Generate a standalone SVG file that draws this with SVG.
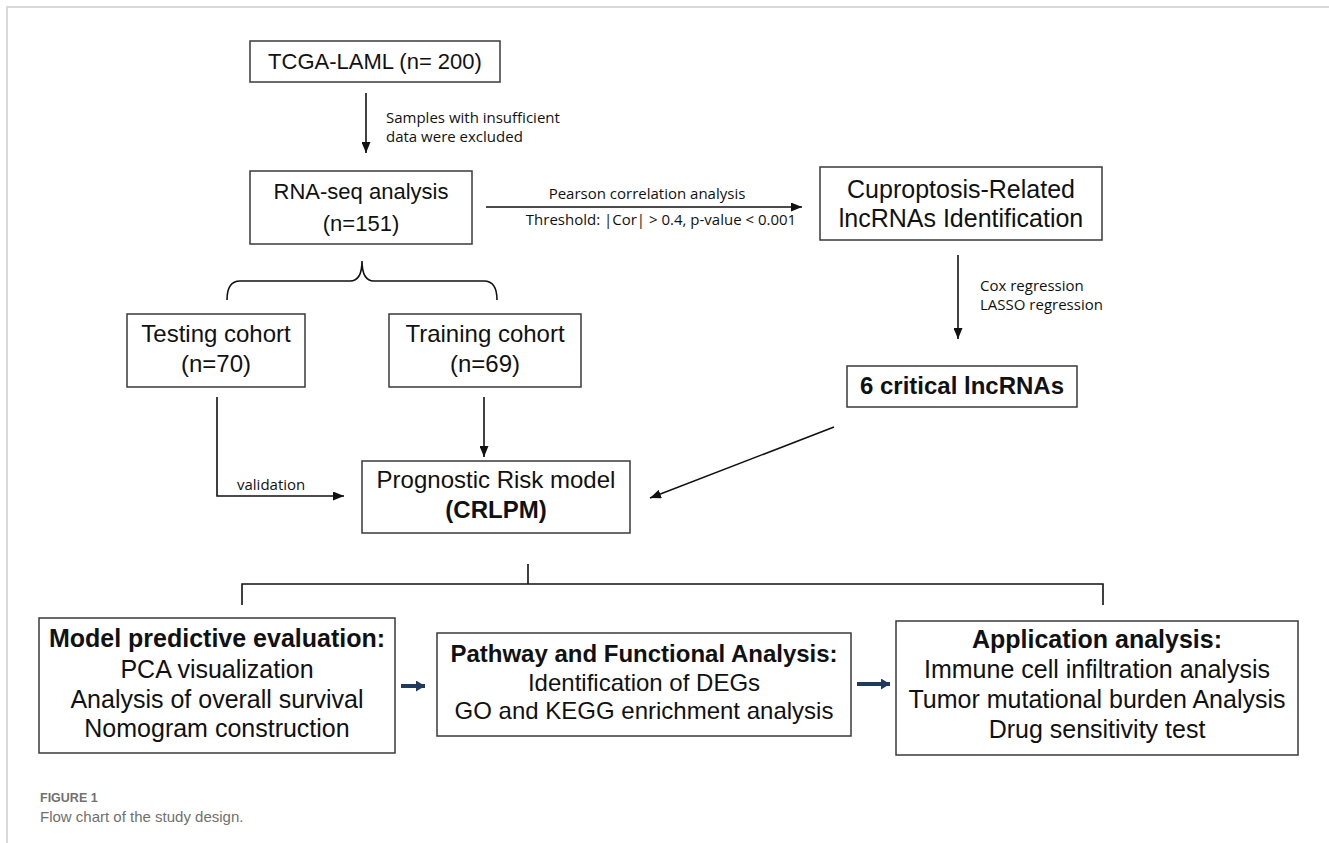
<svg xmlns="http://www.w3.org/2000/svg" width="1329" height="843" viewBox="0 0 1329 843">
<style>
.box{fill:#fff;stroke:#3a3a3a;stroke-width:1.5}
.t{font-family:"Liberation Sans",Arial,sans-serif;fill:#111;text-anchor:middle}
.b{font-weight:bold}
.lbl{font-family:"Open Sans","Liberation Sans",sans-serif;font-size:15px;fill:#111}
.ln{fill:none;stroke:#111;stroke-width:1.6}
.nv{fill:none;stroke:#1f3a5c;stroke-width:4}
.cap{font-family:"Liberation Sans",Arial,sans-serif;fill:#707070}
</style>
<defs>
<marker id="ah" markerUnits="userSpaceOnUse" markerWidth="11" markerHeight="9" refX="11" refY="4.5" orient="auto">
<path d="M0,0 L11,4.5 L0,9 z" fill="#111"/>
</marker>
<marker id="nh" markerUnits="userSpaceOnUse" markerWidth="9" markerHeight="11" refX="9" refY="5.5" orient="auto">
<path d="M0,0 L9,5.5 L0,11 z" fill="#1f3a5c"/>
</marker>
</defs>
<rect width="1329" height="843" fill="#fff"/>
<path d="M7,843 L7,7 L1329,7" fill="none" stroke="#d9d9d9" stroke-width="2"/>

<g id="connectors">
<line class="ln" x1="366" y1="93" x2="366" y2="153" marker-end="url(#ah)"/>
<line class="ln" x1="486" y1="207" x2="802" y2="207" marker-end="url(#ah)"/>
<line class="ln" x1="958" y1="255" x2="958" y2="339" marker-end="url(#ah)"/>
<path class="ln" d="M227,300 Q227,281 240,281 L350,281 Q362,281 362,261 Q362,281 374,281 L484,281 Q497,281 497,300"/>
<line class="ln" x1="484" y1="397" x2="484" y2="457" marker-end="url(#ah)"/>
<path class="ln" d="M217,397 L217,496 L344,496" marker-end="url(#ah)"/>
<line class="ln" x1="834" y1="427" x2="650" y2="498" marker-end="url(#ah)"/>
<path class="ln" d="M528,564 L528,584 M242,605 L242,584 L1103,584 L1103,605"/>
<line class="nv" x1="401" y1="686" x2="425" y2="686" marker-end="url(#nh)"/>
<line class="nv" x1="857" y1="684" x2="890" y2="684" marker-end="url(#nh)"/>
<text class="lbl" x="386" y="123">Samples with insufficient</text>
<text class="lbl" x="386" y="142">data were excluded</text>
<text class="lbl" x="647" y="199" text-anchor="middle">Pearson correlation analysis</text>
<text class="lbl" x="661" y="225" text-anchor="middle" font-size="14">Threshold: |Cor| &gt; 0.4, p-value &lt; 0.001</text>
<text class="lbl" x="980" y="291">Cox regression</text>
<text class="lbl" x="980" y="310">LASSO regression</text>
<text class="lbl" x="237" y="490">validation</text>
</g>

<g id="tcga">
<rect class="box" x="250" y="41" width="250" height="41"/>
<text class="t" x="375" y="69" font-size="22">TCGA-LAML (n= 200)</text>
</g>
<g id="rnaseq">
<rect class="box" x="250" y="171" width="222" height="73"/>
<text class="t" x="361" y="199" font-size="22">RNA-seq analysis</text>
<text class="t" x="361" y="231" font-size="22">(n=151)</text>
</g>
<g id="cuproptosis">
<rect class="box" x="820" y="167" width="282" height="73"/>
<text class="t" x="961" y="198" font-size="25">Cuproptosis-Related</text>
<text class="t" x="961" y="227" font-size="25">lncRNAs Identification</text>
</g>
<g id="testing">
<rect class="box" x="127" y="314" width="178" height="73"/>
<text class="t" x="216" y="342" font-size="24">Testing cohort</text>
<text class="t" x="216" y="372" font-size="24">(n=70)</text>
</g>
<g id="training">
<rect class="box" x="389" y="314" width="192" height="73"/>
<text class="t" x="485" y="342" font-size="24">Training cohort</text>
<text class="t" x="485" y="372" font-size="24">(n=69)</text>
</g>
<g id="critical">
<rect class="box" x="847" y="366" width="230" height="41"/>
<text class="t b" x="962" y="394" font-size="24">6 critical lncRNAs</text>
</g>
<g id="prognostic">
<rect class="box" x="362" y="461" width="268" height="72"/>
<text class="t" x="496" y="488" font-size="24">Prognostic Risk model</text>
<text class="t b" x="496" y="518" font-size="24">(CRLPM)</text>
</g>
<g id="model">
<rect class="box" x="39" y="618" width="356" height="135"/>
<text class="t b" x="217" y="647" font-size="25">Model predictive evaluation:</text>
<text class="t" x="217" y="678" font-size="25">PCA visualization</text>
<text class="t" x="217" y="708" font-size="25">Analysis of overall survival</text>
<text class="t" x="217" y="737" font-size="25">Nomogram construction</text>
</g>
<g id="pathway">
<rect class="box" x="437" y="633" width="414" height="103"/>
<text class="t b" x="644" y="662" font-size="24">Pathway and Functional Analysis:</text>
<text class="t" x="644" y="691" font-size="24">Identification of DEGs</text>
<text class="t" x="644" y="719" font-size="24">GO and KEGG enrichment analysis</text>
</g>
<g id="application">
<rect class="box" x="896" y="621" width="402" height="134"/>
<text class="t b" x="1097" y="648" font-size="25">Application analysis:</text>
<text class="t" x="1097" y="678" font-size="25">Immune cell infiltration analysis</text>
<text class="t" x="1097" y="708" font-size="25">Tumor mutational burden Analysis</text>
<text class="t" x="1097" y="738" font-size="25">Drug sensitivity test</text>
</g>
<g id="caption">
<text class="cap b" x="40" y="802" font-size="12.5">FIGURE 1</text>
<text class="cap" x="40" y="822" font-size="15">Flow chart of the study design.</text>
</g>
</svg>
